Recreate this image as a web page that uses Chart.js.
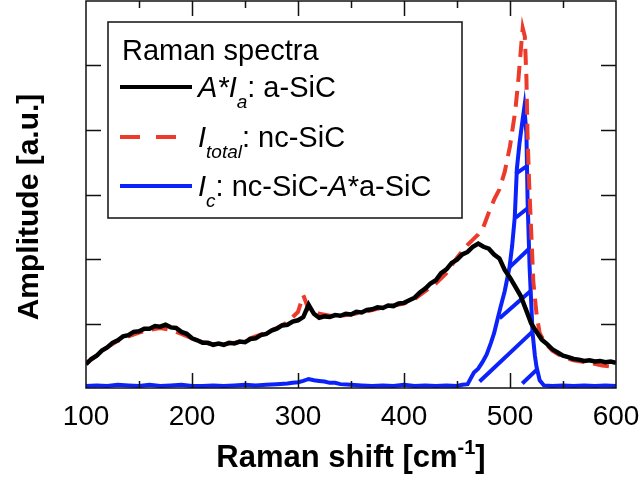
<!DOCTYPE html>
<html>
<head>
<meta charset="utf-8">
<script src="https://cdn.jsdelivr.net/npm/chart.js@4"></script>
<style>
  body { margin: 0; background: #fff; }
  #wrap { width: 640px; height: 479px; }
</style>
</head>
<body>
<div id="wrap"><canvas id="ramanChart"></canvas></div>
<script>
// a-SiC spectrum (A*Ia), sampled every 5 cm-1 from 100 to 600
const aSiCShift = Array.from({ length: 101 }, (_, i) => 100 + 5 * i);
const aSiCAmp = [
  0.37, 0.45, 0.50, 0.58, 0.63, 0.70, 0.74, 0.80, 0.82, 0.87,
  0.88, 0.92, 0.92, 0.96, 0.95, 0.98, 0.94, 0.93, 0.87, 0.84,
  0.77, 0.74, 0.70, 0.70, 0.67, 0.69, 0.67, 0.70, 0.69, 0.72,
  0.71, 0.76, 0.77, 0.82, 0.84, 0.89, 0.92, 0.97, 0.98, 1.03,
  1.05, 1.10, 1.29, 1.15, 1.09, 1.11, 1.10, 1.13, 1.12, 1.15,
  1.14, 1.18, 1.17, 1.21, 1.22, 1.25, 1.24, 1.28, 1.27, 1.31,
  1.32, 1.36, 1.40, 1.48, 1.54, 1.62, 1.67, 1.78, 1.84, 1.94,
  1.99, 2.07, 2.11, 2.19, 2.24, 2.19, 2.16, 2.07, 2.01, 1.83,
  1.71, 1.57, 1.43, 1.22, 1.00, 0.87, 0.75, 0.68, 0.60, 0.55,
  0.50, 0.48, 0.45, 0.44, 0.42, 0.43, 0.41, 0.42, 0.40, 0.41,
  0.39
];

// nc-SiC total spectrum
const totalShift = [
  100, 110, 120, 130, 140, 150, 160, 170, 180, 190, 200, 210, 220, 230, 240,
  250, 260, 270, 280, 290, 300, 305, 310, 320, 330, 340, 350, 360, 370, 380,
  390, 400, 410, 420, 430, 440, 450, 455, 460, 465, 470, 475, 480, 485, 490,
  495, 500, 505, 508, 510, 512, 514, 515.5, 516.5, 518, 519.5, 522, 525, 528,
  533, 540, 550, 560, 575, 587, 600
];
const totalAmp = [
  0.38, 0.50, 0.63, 0.73, 0.80, 0.86, 0.90, 0.93, 0.90, 0.84, 0.77, 0.71, 0.68, 0.68, 0.70,
  0.74, 0.80, 0.86, 0.93, 1.02, 1.18, 1.44, 1.22, 1.15, 1.12, 1.12, 1.14, 1.17, 1.21, 1.25,
  1.28, 1.31, 1.38, 1.50, 1.62, 1.78, 2.02, 2.12, 2.22, 2.30, 2.38, 2.50, 2.72, 2.92, 3.08,
  3.35, 3.75, 4.30, 4.80, 5.20, 5.58, 5.45, 4.80, 3.95, 3.20, 2.62, 1.65, 1.15, 0.85,
  0.70, 0.58, 0.48, 0.43, 0.39, 0.35, 0.32
];

// crystalline part Ic = nc-SiC - A*a-SiC
const crystShift = [
  100, 110, 120, 130, 140, 150, 160, 170, 180, 190, 200, 210, 220, 230, 240,
  250, 260, 270, 280, 290, 295, 300, 305, 310, 315, 320, 325, 330, 335, 340,
  350, 360, 370, 380, 390, 400, 410, 420, 430, 440, 450, 455, 460, 463, 466,
  470, 474, 478, 482, 485, 488, 491, 495, 499.5, 502, 504.5, 506.5, 509, 511, 513.5,
  515.5, 516.6, 518.5, 521.3, 523.5, 525, 528, 532, 540, 550, 560, 570, 580, 590, 600
];
const crystAmp = [
  0.03, 0.04, 0.03, 0.05, 0.04, 0.03, 0.05, 0.03, 0.04, 0.05, 0.03, 0.03, 0.04, 0.03, 0.04,
  0.05, 0.04, 0.05, 0.06, 0.07, 0.08, 0.09, 0.11, 0.14, 0.12, 0.11, 0.10, 0.08, 0.08, 0.06,
  0.05, 0.04, 0.03, 0.04, 0.03, 0.05, 0.03, 0.04, 0.03, 0.04, 0.03, 0.05, 0.06, 0.15, 0.24,
  0.30, 0.40, 0.52, 0.70, 0.85, 1.05, 1.25, 1.50, 1.87, 2.20, 2.65, 3.40, 3.80, 4.05, 4.35,
  3.95, 2.90, 1.87, 0.85, 0.50, 0.33, 0.12, 0.04, 0.03, 0.04, 0.03, 0.04, 0.03, 0.04, 0.03
];

// hatch strokes across the Ic peak: [x0, y0, x1, y1]
const hatchSegments = [
  [471.3, 0.10, 522.2, 0.89],
  [511.6, 0.07, 526.3, 0.30],
  [490.2, 1.08, 520.0, 1.51],
  [499.5, 1.87, 518.0, 2.16],
  [505.3, 2.64, 516.9, 2.79],
  [505.3, 3.32, 515.9, 3.44]
];

const xMajorTicks = [200, 300, 400, 500];
const xMinorTicks = [150, 250, 350, 450, 550];
const yTicks = [1, 2, 3, 4, 5];

const BLACK = '#000000';
const RED = '#ec3a2b';
const BLUE = '#0b22fb';
const FONT = '"Liberation Sans", Arial, Helvetica, sans-serif';

const pts = (xs, ys) => xs.map((x, i) => ({ x: x, y: ys[i] }));

const datasets = [
  { label: 'A*Ia: a-SiC', data: pts(aSiCShift, aSiCAmp), borderColor: BLACK, borderWidth: 4.5 },
  { label: 'Itotal: nc-SiC', data: pts(totalShift, totalAmp), borderColor: RED, borderWidth: 4, borderDash: [16, 9] },
  { label: 'Ic: nc-SiC-A*a-SiC', data: pts(crystShift, crystAmp), borderColor: BLUE, borderWidth: 4 }
];
hatchSegments.forEach(s => {
  datasets.push({
    label: 'hatch',
    data: [{ x: s[0], y: s[1] }, { x: s[2], y: s[3] }],
    borderColor: BLUE,
    borderWidth: 4
  });
});
datasets.forEach(d => {
  d.pointRadius = 0;
  d.tension = 0;
  d.fill = false;
});

// rich-text helper: runs of {t, it, bold, sub, sup}
function drawRuns(ctx, x, base, runs, size, measureOnly) {
  let cx = x;
  runs.forEach(r => {
    const fs = (r.sub || r.sup) ? Math.round(size * 0.66) : size;
    ctx.font = (r.it ? 'italic ' : '') + (r.bold ? 'bold ' : '') + fs + 'px ' + FONT;
    const dy = r.sub ? size * 0.38 : (r.sup ? -size * 0.42 : 0);
    if (!measureOnly) ctx.fillText(r.t, cx, base + dy);
    cx += ctx.measureText(r.t).width;
  });
  return cx - x;
}

const frameAndTicks = {
  id: 'frameAndTicks',
  afterDatasetsDraw(chart) {
    const { ctx, chartArea: a, scales: { x, y } } = chart;
    ctx.save();
    ctx.strokeStyle = '#111';
    ctx.lineWidth = 1.5;
    ctx.strokeRect(a.left, a.top, a.right - a.left, a.bottom - a.top);
    ctx.beginPath();
    const xTick = (v, len) => {
      const px = Math.round(x.getPixelForValue(v)) + 0.5;
      ctx.moveTo(px, a.bottom); ctx.lineTo(px, a.bottom - len);
      ctx.moveTo(px, a.top); ctx.lineTo(px, a.top + len);
    };
    xMajorTicks.forEach(v => xTick(v, 15));
    xMinorTicks.forEach(v => xTick(v, 7));
    yTicks.forEach(v => {
      const py = Math.round(y.getPixelForValue(v)) + 0.5;
      ctx.moveTo(a.left, py); ctx.lineTo(a.left + 15, py);
      ctx.moveTo(a.right, py); ctx.lineTo(a.right - 15, py);
    });
    ctx.stroke();
    ctx.restore();
  }
};

const legendRows = [
  { ds: 0, runs: [{ t: 'A*I', it: true }, { t: 'a', it: true, sub: true }, { t: ': a-SiC' }] },
  { ds: 1, runs: [{ t: 'I', it: true }, { t: 'total', it: true, sub: true }, { t: ': nc-SiC' }] },
  { ds: 2, runs: [{ t: 'I', it: true }, { t: 'c', it: true, sub: true }, { t: ': nc-SiC-' }, { t: 'A', it: true }, { t: '*a-SiC' }] }
];

const legendAndTitles = {
  id: 'legendAndTitles',
  afterDraw(chart) {
    const { ctx, chartArea: a } = chart;
    ctx.save();
    // legend box
    ctx.fillStyle = '#fff';
    ctx.fillRect(108, 22, 354, 196);
    ctx.strokeStyle = '#111';
    ctx.lineWidth = 1.5;
    ctx.strokeRect(108, 22, 354, 196);
    ctx.fillStyle = '#000';
    ctx.textBaseline = 'alphabetic';
    ctx.font = '29px ' + FONT;
    ctx.fillText('Raman spectra', 122, 60);
    const rowBase = [97, 147, 196];
    legendRows.forEach((row, i) => {
      const ds = chart.data.datasets[row.ds];
      const ly = rowBase[i] - 10;
      ctx.strokeStyle = ds.borderColor;
      ctx.lineWidth = 4;
      ctx.setLineDash(ds.borderDash ? [20, 16] : []);
      ctx.beginPath();
      ctx.moveTo(120, ly);
      ctx.lineTo(192, ly);
      ctx.stroke();
      ctx.setLineDash([]);
      ctx.fillStyle = '#000';
      drawRuns(ctx, 198, rowBase[i], row.runs, 29);
    });
    // x axis title with superscript
    const xRuns = [{ t: 'Raman shift [cm', bold: true }, { t: '-1', bold: true, sup: true }, { t: ']', bold: true }];
    const w = drawRuns(ctx, 0, 0, xRuns, 31, true);
    drawRuns(ctx, (a.left + a.right) / 2 - w / 2, 467, xRuns, 31);
    // y axis title
    ctx.translate(38, 207);
    ctx.rotate(-Math.PI / 2);
    ctx.font = 'bold 30px ' + FONT;
    ctx.textAlign = 'center';
    ctx.fillText('Amplitude [a.u.]', 0, 0);
    ctx.restore();
  }
};

new Chart(document.getElementById('ramanChart'), {
  type: 'line',
  data: { datasets: datasets },
  options: {
    responsive: true,
    maintainAspectRatio: false,
    animation: false,
    layout: { padding: { top: 1, right: 24, left: 0, bottom: 0 } },
    plugins: { legend: { display: false }, tooltip: { enabled: false } },
    scales: {
      x: {
        type: 'linear',
        min: 100,
        max: 600,
        border: { display: false },
        grid: { display: false, drawTicks: false },
        ticks: {
          stepSize: 100,
          autoSkip: false,
          maxRotation: 0,
          padding: 12,
          color: '#000',
          font: { family: FONT, size: 28 }
        },
        afterFit: s => { s.height = 91; s.paddingLeft = 0; s.paddingRight = 0; }
      },
      y: {
        min: 0,
        max: 6,
        border: { display: false },
        grid: { display: false, drawTicks: false },
        ticks: { display: false, stepSize: 1 },
        afterFit: s => { s.width = 86; }
      }
    }
  },
  plugins: [frameAndTicks, legendAndTitles]
});
</script>
</body>
</html>
